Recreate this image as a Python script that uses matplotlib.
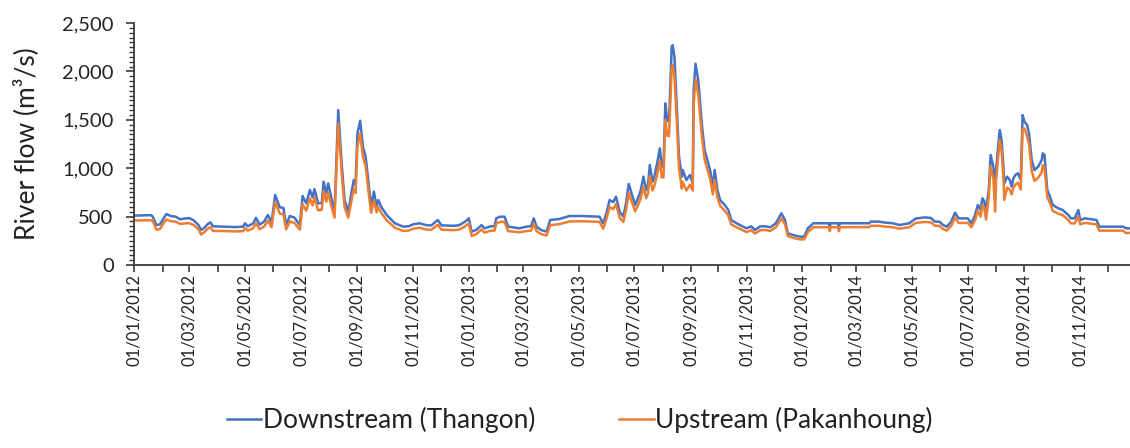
#!/usr/bin/env python3

import matplotlib
matplotlib.use("Agg")
import matplotlib.pyplot as plt
import matplotlib.dates as mdates
import matplotlib.ticker as mticker
import numpy as np
import pandas as pd

# days since 01/01/2012
day_offsets = [
    0, 18, 20, 24, 28, 33, 35, 40, 45, 50, 55, 60, 65, 70, 73, 76, 80, 83, 86,
    100, 110, 119, 121, 124, 130, 133, 137, 142, 146, 150, 154, 159, 163, 166,
    170, 175, 181, 184, 188, 192, 195, 197, 201, 205, 207, 210, 212, 216, 219,
    223, 227, 230, 234, 238, 240, 242, 244, 247, 250, 253, 257, 259, 262, 265,
    267, 270, 276, 285, 294, 300, 305, 312, 320, 325, 332, 336, 349, 355, 362,
    366, 369, 374, 380, 383, 390, 394, 396, 400, 405, 409, 421, 429, 434, 437,
    440, 445, 451, 455, 465, 476, 491, 509, 513, 517, 520, 524, 527, 531, 535,
    538, 541, 544, 548, 551, 554, 557, 560, 562, 564, 567, 569, 572, 575, 577,
    579, 581, 583, 585, 588, 589, 591, 593, 596, 599, 600, 604, 608, 611, 612,
    614, 617, 621, 624, 627, 630, 633, 635, 638, 641, 646, 650, 653, 659, 666,
    670, 675, 679, 685, 690, 696, 702, 708, 712, 715, 721, 728, 733, 737, 743,
    760, 761, 762, 770, 771, 772, 804, 806, 815, 820, 830, 837, 848, 855, 865,
    872, 876, 881, 885, 889, 894, 898, 902, 912, 916, 920, 923, 926, 928, 930,
    932, 935, 937, 940, 942, 943, 945, 947, 949, 951, 952, 955, 958, 960, 962,
    964, 967, 970, 972, 974, 977, 979, 982, 985, 989, 993, 994, 996, 999, 1002,
    1005, 1011, 1016, 1022, 1025, 1029, 1033, 1035, 1040, 1053, 1056, 1067,
    1082, 1085, 1095,
]

downstream = [
    510, 515, 500, 413, 420, 500, 527, 505, 500, 472, 480, 485, 460, 413, 362, 380, 420, 441, 400,
    396, 392, 396, 431, 400, 430, 489, 417, 450, 517, 440, 723, 596, 590, 413,
    506, 490, 413, 713, 637, 775, 700, 785, 637, 640, 861, 741, 844, 671, 551,
    1601, 1016, 671, 551, 775, 878, 830, 1360, 1491, 1222, 1119, 775, 603, 758, 610,
    671, 603, 517, 431, 396, 400, 420, 431, 410, 410, 465, 410, 405, 410, 448,
    482, 344, 362, 413, 379, 400, 400, 482, 499, 499, 396, 379, 396, 400, 482,
    396, 362, 344, 465, 475, 506, 506, 499, 431, 551, 671, 650, 706, 551, 499,
    637, 837, 741, 620, 689, 768, 913, 775, 827, 1033, 861, 913, 1050, 1205, 1016,
    1016, 1670, 1498, 1480, 2255, 2272, 2152, 1739, 1119, 913, 982, 878, 930, 844, 1808,
    2080, 1911, 1450, 1188, 1085, 981, 809, 981, 775, 671, 620, 568, 465, 431, 396,
    379, 400, 362, 400, 400, 390, 431, 534, 465, 327, 310, 293, 293, 379, 431,
    431, 395, 431, 431, 395, 431, 431, 448, 448, 440, 431, 413, 431, 480, 492,
    485, 448, 448, 413, 396, 448, 541, 482, 482, 431, 517, 620, 568, 689, 660,
    568, 775, 1136, 1016, 844, 980, 1200, 1395, 1291, 1016, 844, 913, 878, 810, 895,
    930, 947, 878, 1550, 1481, 1446, 1360, 1085, 981, 1016, 1085, 1154, 1136, 775, 706,
    620, 586, 568, 517, 482, 482, 568, 465, 482, 465, 396, 396,
    396, 380, 375,
]

upstream = [
    460, 462, 455, 365, 372, 448, 470, 452, 448, 425, 430, 432, 412, 368, 315, 335, 372, 392, 352,
    350, 347, 350, 382, 355, 380, 432, 370, 398, 458, 390, 650, 530, 525, 368,
    450, 435, 365, 630, 560, 690, 615, 700, 565, 570, 765, 655, 750, 590, 490,
    1464, 920, 595, 490, 690, 780, 745, 1220, 1360, 1120, 1020, 690, 540, 670, 545,
    600, 540, 462, 385, 352, 355, 375, 385, 365, 365, 415, 365, 360, 365, 400,
    430, 300, 318, 368, 335, 355, 355, 430, 445, 445, 350, 338, 350, 355, 430,
    350, 320, 305, 412, 422, 450, 452, 446, 375, 490, 600, 575, 630, 490, 445,
    570, 745, 660, 555, 615, 690, 810, 690, 740, 920, 770, 815, 935, 1080, 905,
    905, 1500, 1340, 1330, 2030, 2066, 1950, 1580, 1000, 790, 860, 770, 830, 770, 1650,
    1920, 1760, 1330, 1090, 990, 890, 730, 880, 700, 610, 560, 510, 420, 390, 358,
    340, 360, 325, 360, 362, 352, 390, 480, 420, 300, 280, 265, 265, 340, 390,
    390, 350, 390, 390, 350, 390, 392, 405, 405, 398, 390, 375, 390, 435, 445,
    440, 405, 405, 372, 355, 405, 490, 435, 435, 390, 465, 560, 500, 620, 590,
    470, 700, 1020, 900, 551, 880, 1080, 1291, 1180, 900, 671, 800, 780, 730, 800,
    830, 850, 780, 1400, 1412, 1330, 1250, 970, 870, 900, 960, 1030, 1010, 700, 640,
    560, 530, 515, 465, 430, 430, 500, 420, 435, 420, 355, 355,
    355, 330, 335,
]

series_labels = ["Downstream (Thangon)", "Upstream (Pakanhoung)"]
y_ticks = [0, 500, 1000, 1500, 2000, 2500]

dates = pd.Timestamp("2012-01-01") + pd.to_timedelta(day_offsets, unit="D")

plt.rcParams["font.family"] = ["Lato", "DejaVu Sans"]

text_col = "#222222"
spine_col = "#3a3a3a"

fig = plt.figure(figsize=(11.30, 4.48), dpi=100)
ax = fig.add_axes([0.119, 0.4085, 0.8854, 0.540])

ax.plot(dates, downstream, color="#4472C4", lw=1.8, label=series_labels[0])
ax.plot(dates, upstream, color="#ED7D31", lw=1.8, label=series_labels[1])

ax.set_xlim(pd.Timestamp("2012-01-01"), pd.Timestamp("2014-12-31"))
ax.set_ylim(0, 2500)

ax.set_yticks(y_ticks)
ax.yaxis.set_major_formatter(mticker.FuncFormatter(lambda v, p: f"{int(v):,}"))
ax.yaxis.set_minor_locator(mticker.MultipleLocator(50))

ax.xaxis.set_major_locator(mdates.MonthLocator(bymonth=[1, 3, 5, 7, 9, 11]))
ax.xaxis.set_minor_locator(mdates.MonthLocator())
ax.xaxis.set_major_formatter(mdates.DateFormatter("%d/%m/%Y"))

for side in ["top", "right"]:
    ax.spines[side].set_visible(False)
for side in ["left", "bottom"]:
    ax.spines[side].set_color(spine_col)
    ax.spines[side].set_linewidth(1.3)

ax.tick_params(axis="y", which="major", direction="out", length=6, width=1.2,
               color=spine_col, labelsize=14.5, labelcolor=text_col, pad=9)
ax.tick_params(axis="y", which="minor", direction="out", length=3.5, width=1.0,
               color=spine_col)
ax.tick_params(axis="x", which="both", direction="out", length=5, width=1.2,
               color=spine_col)
ax.tick_params(axis="x", which="major", labelsize=12, labelcolor=text_col,
               labelrotation=90, pad=1.5)

ax.set_ylabel("River flow (m³/s)", fontsize=19, color=text_col, labelpad=17)

fig.legend(
    loc="lower center",
    bbox_to_anchor=(0.513, -0.02),
    ncol=2,
    frameon=False,
    fontsize=19,
    handlelength=1.3,
    handletextpad=0.05,
    columnspacing=3.2,
    labelcolor=text_col,
)

fig.savefig("out.png", dpi=100)
plt.close(fig)
